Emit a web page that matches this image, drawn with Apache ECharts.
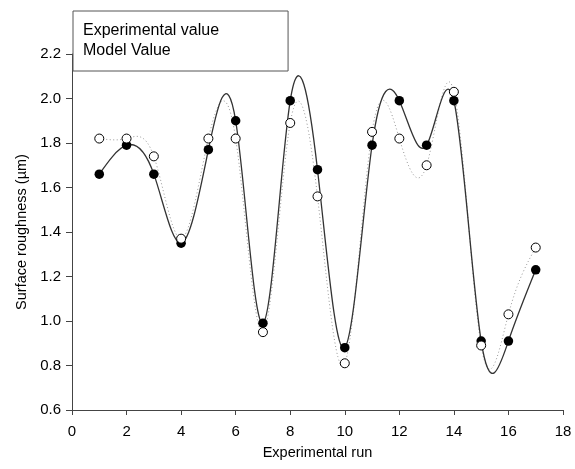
<!DOCTYPE html>
<html>
<head>
<meta charset="utf-8">
<script src="https://cdn.jsdelivr.net/npm/echarts@6/dist/echarts.min.js"></script>
<style>
  html, body { margin: 0; padding: 0; background: #fff; }
  #chart { width: 575px; height: 469px; }
</style>
</head>
<body>
<div id="chart"></div>
<script>
// Experimental runs 1..17
const runs = [1, 2, 3, 4, 5, 6, 7, 8, 9, 10, 11, 12, 13, 14, 15, 16, 17];
// Measured surface roughness (µm)
const experimentalValues = [1.66, 1.79, 1.66, 1.35, 1.77, 1.90, 0.99, 1.99, 1.68, 0.88, 1.79, 1.99, 1.79, 1.99, 0.91, 0.91, 1.23];
// Predicted surface roughness (µm)
const modelValues = [1.82, 1.82, 1.74, 1.37, 1.82, 1.82, 0.95, 1.89, 1.56, 0.81, 1.85, 1.82, 1.70, 2.03, 0.89, 1.03, 1.33];

const seriesNames = ['Experimental value', 'Model Value'];
const xTicks = { min: 0, max: 18, interval: 2 };
const yTicks = { min: 0.6, max: 2.2, interval: 0.2 };

const pairs = (ys) => runs.map((x, i) => [x, ys[i]]);
const FONT = 'Liberation Sans, Arial, sans-serif';

// Natural cubic spline: end slopes of each interval, used to turn every
// interval into one cubic Bezier segment in data space.
function splineSlopes(xs, ys) {
  const n = xs.length;
  const h = [];
  for (let i = 0; i < n - 1; i++) h.push(xs[i + 1] - xs[i]);
  const a = new Array(n).fill(0), b = new Array(n).fill(1), c = new Array(n).fill(0), d = new Array(n).fill(0);
  for (let i = 1; i < n - 1; i++) {
    a[i] = h[i - 1];
    b[i] = 2 * (h[i - 1] + h[i]);
    c[i] = h[i];
    d[i] = 6 * ((ys[i + 1] - ys[i]) / h[i] - (ys[i] - ys[i - 1]) / h[i - 1]);
  }
  // Thomas algorithm for second derivatives M (M0 = Mn-1 = 0)
  for (let i = 1; i < n; i++) {
    const w = a[i] / b[i - 1];
    b[i] -= w * c[i - 1];
    d[i] -= w * d[i - 1];
  }
  const M = new Array(n).fill(0);
  M[n - 1] = d[n - 1] / b[n - 1];
  for (let i = n - 2; i >= 0; i--) M[i] = (d[i] - c[i] * M[i + 1]) / b[i];
  const segs = [];
  for (let i = 0; i < n - 1; i++) {
    const s = (ys[i + 1] - ys[i]) / h[i];
    segs.push({
      d0: s - h[i] * (2 * M[i] + M[i + 1]) / 6,
      d1: s + h[i] * (M[i] + 2 * M[i + 1]) / 6
    });
  }
  return segs;
}

function splineSeries(name, ys, style, z) {
  const segs = splineSlopes(runs, ys);
  return {
    name: name,
    type: 'custom',
    data: pairs(ys),
    encode: { x: 0, y: 1 },
    z: z,
    silent: true,
    renderItem: function (params, api) {
      const i = params.dataIndex;
      if (i >= runs.length - 1) return null;
      const x0 = runs[i], x1 = runs[i + 1], hh = x1 - x0;
      const y0 = ys[i], y1 = ys[i + 1];
      const p0 = api.coord([x0, y0]);
      const c0 = api.coord([x0 + hh / 3, y0 + segs[i].d0 * hh / 3]);
      const c1 = api.coord([x1 - hh / 3, y1 - segs[i].d1 * hh / 3]);
      const p1 = api.coord([x1, y1]);
      return {
        type: 'bezierCurve',
        shape: {
          x1: p0[0], y1: p0[1], x2: p1[0], y2: p1[1],
          cpx1: c0[0], cpy1: c0[1], cpx2: c1[0], cpy2: c1[1]
        },
        style: Object.assign({ fill: null }, style)
      };
    }
  };
}

const chart = echarts.init(document.getElementById('chart'), null, { renderer: 'canvas' });

chart.setOption({
  backgroundColor: '#fff',
  animation: false,
  textStyle: { fontFamily: FONT },
  grid: { left: 72, right: 12, top: 54, bottom: 59, containLabel: false },
  legend: {
    data: seriesNames,
    orient: 'vertical',
    left: 73,
    top: 11,
    itemWidth: 0,
    itemHeight: 16,
    itemGap: 4,
    icon: 'rect',
    itemStyle: { opacity: 0 },
    padding: [12, 69, 12, 5],
    borderColor: '#555',
    borderWidth: 1,
    backgroundColor: '#fff',
    selectedMode: false,
    textStyle: { fontFamily: FONT, fontSize: 16, color: '#000' }
  },
  xAxis: {
    type: 'value',
    min: xTicks.min,
    max: xTicks.max,
    interval: xTicks.interval,
    name: 'Experimental run',
    nameLocation: 'middle',
    nameGap: 35,
    nameTextStyle: { fontFamily: FONT, fontSize: 14.5, color: '#000' },
    axisLine: { show: true, lineStyle: { color: '#444', width: 1 } },
    axisTick: { show: true, inside: false, length: 5, lineStyle: { color: '#444' } },
    axisLabel: { fontFamily: FONT, fontSize: 15, color: '#000', margin: 14 },
    splitLine: { show: false }
  },
  yAxis: {
    type: 'value',
    min: yTicks.min,
    max: yTicks.max,
    interval: yTicks.interval,
    name: 'Surface roughness (\u00b5m)',
    nameLocation: 'middle',
    nameGap: 38,
    nameTextStyle: { fontFamily: FONT, fontSize: 14.5, color: '#000' },
    axisLine: { show: true, lineStyle: { color: '#444', width: 1 } },
    axisTick: { show: true, inside: false, length: 6, lineStyle: { color: '#444' } },
    axisLabel: {
      fontFamily: FONT, fontSize: 15, color: '#000', margin: 11,
      formatter: (v) => v.toFixed(1)
    },
    splitLine: { show: false }
  },
  series: [
    splineSeries(seriesNames[1], modelValues, { stroke: '#999', lineWidth: 1, lineDash: [1, 2.5] }, 1),
    splineSeries(seriesNames[0], experimentalValues, { stroke: '#333', lineWidth: 1.3 }, 2),
    {
      name: seriesNames[0],
      type: 'scatter',
      data: pairs(experimentalValues),
      symbol: 'circle',
      symbolSize: 9.5,
      itemStyle: { color: '#000', borderColor: '#000', borderWidth: 0, opacity: 1 },
      z: 3
    },
    {
      name: seriesNames[1],
      type: 'scatter',
      data: pairs(modelValues),
      symbol: 'circle',
      symbolSize: 9,
      itemStyle: { color: '#fff', borderColor: '#000', borderWidth: 1, opacity: 1 },
      z: 4
    }
  ]
});
</script>
</body>
</html>
